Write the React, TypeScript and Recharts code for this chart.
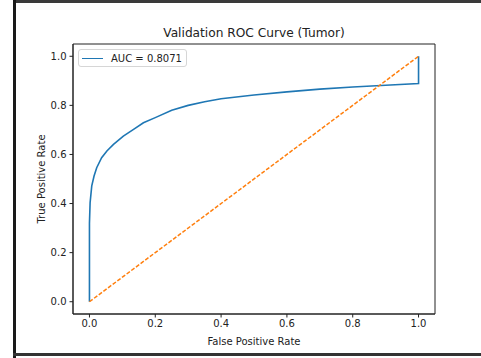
import { LineChart, Line, XAxis, YAxis, ReferenceArea } from 'recharts';

// ROC curve points
const fprValues = [0, 0, 0.002, 0.007, 0.014, 0.022, 0.037, 0.053, 0.073, 0.103, 0.134, 0.164, 0.2, 0.25, 0.3, 0.35, 0.4, 0.5, 0.6, 0.7, 0.8, 0.9, 1.0, 1.0];
const tprValues = [0, 0.32, 0.404, 0.472, 0.512, 0.546, 0.587, 0.614, 0.641, 0.675, 0.702, 0.729, 0.75, 0.78, 0.8, 0.815, 0.827, 0.842, 0.855, 0.866, 0.875, 0.882, 0.889, 1.0];
const chanceFpr = [0, 1];
const chanceTpr = [0, 1];
const axisTicks = [0, 0.2, 0.4, 0.6, 0.8, 1.0];
const aucLabel = 'AUC = 0.8071';

const rocData = fprValues.map((fpr, i) => ({ fpr, tpr: tprValues[i] }));
const chanceData = chanceFpr.map((fpr, i) => ({ fpr, tpr: chanceTpr[i] }));

const FONT = '"DejaVu Sans", sans-serif';
const BLUE = '#1f77b4';
const ORANGE = '#ff7f0e';

const tickStyle = { fill: '#222', fontSize: 10, fontFamily: FONT };

const LegendBox = () => (
    <div
        style={{
            position: 'absolute',
            left: 78,
            top: 49,
            border: '1px solid #d6d6d6',
            borderRadius: 3,
            background: 'rgba(255,255,255,0.8)',
            width: 109,
            height: 18,
            display: 'flex',
            alignItems: 'center',
            fontFamily: FONT,
            fontSize: 10,
            color: '#222',
            boxSizing: 'border-box',
        }}
    >
        <span style={{ display: 'inline-block', width: 21, height: 0, borderTop: `1.6px solid ${BLUE}`, marginLeft: 3, marginRight: 8 }} />
        <span>{aucLabel}</span>
    </div>
);

export default function App() {
    return (
        <div style={{ position: 'absolute', left: 0, top: 0, width: 481, height: 358, background: '#fff', fontFamily: FONT }}>
            {/* screenshot edges */}
            <div style={{ position: 'absolute', left: 13, top: 0, width: 468, height: 3, background: '#3a3a3a' }} />
            <div style={{ position: 'absolute', left: 13, top: 0, width: 3, height: 358, background: '#1a1a1a' }} />
            <div style={{ position: 'absolute', left: 13, top: 353, width: 468, height: 3, background: '#333' }} />

            <div
                style={{
                    position: 'absolute',
                    left: 73,
                    width: 362,
                    top: 25,
                    textAlign: 'center',
                    fontSize: 12.2,
                    color: '#222',
                    lineHeight: '16px',
                }}
            >
                Validation ROC Curve (Tumor)
            </div>

            <LineChart width={481} height={358} margin={{ top: 44, right: 46, bottom: 0, left: 0 }}>
                <XAxis
                    dataKey="fpr"
                    type="number"
                    domain={[-0.05, 1.05]}
                    ticks={axisTicks}
                    tickFormatter={(v: number) => v.toFixed(1)}
                    tick={tickStyle}
                    tickSize={3.5}
                    tickMargin={2}
                    stroke="#222"
                    height={44}
                    allowDataOverflow
                    label={() => (
                        <text x={254} y={341} textAnchor="middle" dominantBaseline="central" fill="#222" fontSize={10} fontFamily={FONT}>
                            False Positive Rate
                        </text>
                    )}
                />
                <YAxis
                    dataKey="tpr"
                    type="number"
                    domain={[-0.05, 1.05]}
                    ticks={axisTicks}
                    tickFormatter={(v: number) => v.toFixed(1)}
                    tick={tickStyle}
                    tickSize={3.5}
                    tickMargin={3}
                    stroke="#222"
                    width={73}
                    allowDataOverflow
                    label={() => (
                        <text
                            x={41}
                            y={179}
                            transform="rotate(-90 41 179)"
                            textAnchor="middle"
                            dominantBaseline="central"
                            fill="#222"
                            fontSize={10}
                            fontFamily={FONT}
                        >
                            True Positive Rate
                        </text>
                    )}
                />
                <ReferenceArea x1={-0.05} x2={1.05} y1={-0.05} y2={1.05} fill="none" stroke="#222" strokeWidth={1} />
                <Line
                    data={rocData}
                    dataKey="tpr"
                    type="linear"
                    stroke={BLUE}
                    strokeWidth={1.6}
                    dot={false}
                    activeDot={false}
                    isAnimationActive={false}
                />
                <Line
                    data={chanceData}
                    dataKey="tpr"
                    type="linear"
                    stroke={ORANGE}
                    strokeWidth={1.5}
                    strokeDasharray="4 1.8"
                    dot={false}
                    activeDot={false}
                    isAnimationActive={false}
                />
            </LineChart>
            <LegendBox />
        </div>
    );
}
